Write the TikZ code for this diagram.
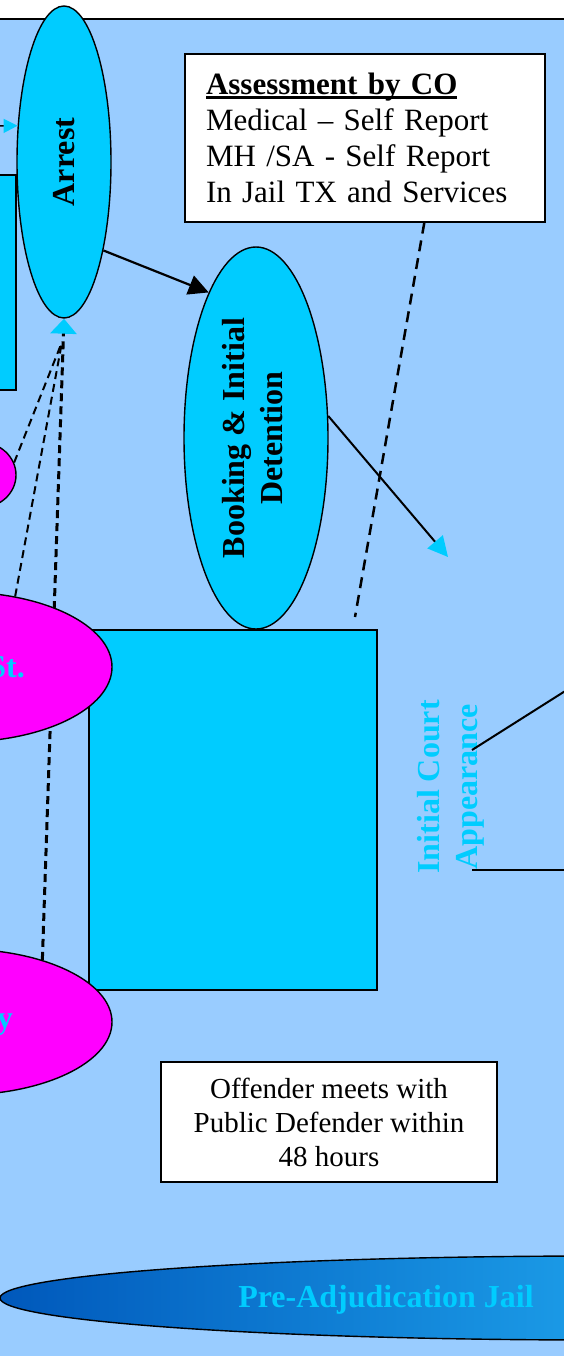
\documentclass[tikz,border=0pt]{standalone}
\usepackage{fontspec}
\setmainfont{Liberation Serif}
\usetikzlibrary{calc, shapes.geometric, arrows.meta, backgrounds}
\definecolor{SkyFill}{RGB}{153,204,255}
\definecolor{StageFill}{RGB}{0,204,255}
\definecolor{AgencyFill}{RGB}{255,0,255}
\definecolor{JailLeft}{RGB}{0,88,187}
\definecolor{JailRight}{RGB}{28,157,232}
\newcommand\heavyline[1]{\setbox0\hbox{#1}\rlap{\rule[-4pt]{\wd0}{2.6pt}}\box0}

\begin{document}
\begin{tikzpicture}[
  x=1pt, y=-1pt,
  font=\fontsize{32}{38}\selectfont,
  stagebox/.style={draw, line width=1.4pt, fill=StageFill, inner sep=0pt},
  stageoval/.style={stagebox, ellipse},
  agencyoval/.style={draw, line width=1.4pt, fill=AgencyFill, ellipse, inner sep=0pt},
  notebox/.style={draw, line width=1.4pt, fill=white, inner sep=0pt},
  stagetext/.style={text=StageFill, font=\fontsize{32}{38}\selectfont\bfseries, inner sep=0pt},
  flowarrow/.style={line width=2.2pt, -{Triangle[length=20pt,width=20pt]}},
  cyanarrow/.style={line width=2pt, -{Triangle[length=20pt,width=20pt,color=StageFill]}},
  linkline/.style={line width=2pt, dash pattern=on 8pt off 5pt}
]
\useasboundingbox (0,0) rectangle (564,1356);
\clip (0,0) rectangle (564,1356);

\node[agencyoval, minimum width=72pt, minimum height=66pt] (agencytop) at (-20,475) {};
\node[agencyoval, minimum width=304pt, minimum height=150pt] (agencymid) at (-40,667) {};
\node[agencyoval, minimum width=304pt, minimum height=146pt] (agencylow) at (-40,1022) {};
\node[stagetext, anchor=east] (agencymidtxt) at (25,667) {St.};
\node[stagetext, anchor=east] (agencylowtxt) at (13,1025) {y};

\node[stageoval, minimum width=94pt, minimum height=312pt] (arrest) at (64,162) {\rotatebox{90}{\textbf{Arrest}}};
\node[stageoval, minimum width=144pt, minimum height=382pt] (booking) at (256,438) {\rotatebox{90}{\bfseries\begin{tabular}{@{}c@{}}Booking \& Initial\\Detention\end{tabular}}};

\node[notebox, text width=318pt, inner xsep=21pt, minimum height=168pt, align=left, font=\fontsize{31}{36}\selectfont] (assess) at (365,138) {\heavyline{\textbf{Assessment by CO}}\\Medical -- Self Report\\MH /SA - Self Report\\In Jail TX and Services};
\node[notebox, minimum width=336pt, minimum height=120pt, align=center, font=\fontsize{29}{34}\selectfont] (defender) at (329,1122) {Offender meets with\\Public Defender within\\48 hours};

\node[stagetext, rotate=90, align=center] (court) at (451,787) {Initial Court\\Appearance};

\node[ellipse, draw, line width=1.4pt, minimum width=1200pt, minimum height=84pt, inner sep=0pt,
  left color=JailLeft, right color=JailRight, middle color=JailRight] (jail) at (600,1298) {};
\node[stagetext] (jailtxt) at (386,1300) {Pre-Adjudication Jail};

\coordinate (hub) at (62,342);
\coordinate (intakein) at (-10,126);
\coordinate (courtin) at (448,557);
\coordinate (notetail) at (355,617);
\coordinate (courtout) at (600,669);
\coordinate (courtexit) at (600,870);

\draw[line width=1.5pt, -{Triangle[length=14pt,width=14pt,color=StageFill]}] (intakein) -- (arrest.142);
\draw[flowarrow] (arrest.-66) -- (booking.108);
\draw[cyanarrow] (booking.17) -- (courtin);
\draw[line width=2.5pt, dash pattern=on 11pt off 7pt] (assess.-55) -- (notetail);
\draw[line width=2pt] ($(court.center)+(21,-37)$) -- (courtout);
\draw[line width=2pt] ($(court.center)+(21,83)$) -- (courtexit);

\begin{scope}[on background layer]
\fill[white] (0,0) rectangle (564,19);
\draw[line width=1.4pt, fill=SkyFill] (-10,19) rectangle (574,1366);
\node[stagebox, minimum width=36pt, minimum height=215pt] (intake) at (-2,282.5) {};
\node[stagebox, minimum width=288pt, minimum height=360pt] (holding) at (233,810) {};
\draw[linkline] (agencytop.20) -- (hub);
\draw[linkline] (agencymid.52) -- (hub);
\draw[linkline, line width=3pt, -{Triangle[length=15pt,width=26pt,color=StageFill]}] (agencylow.37) -- (arrest.south);
\end{scope}
\end{tikzpicture}
\end{document}
